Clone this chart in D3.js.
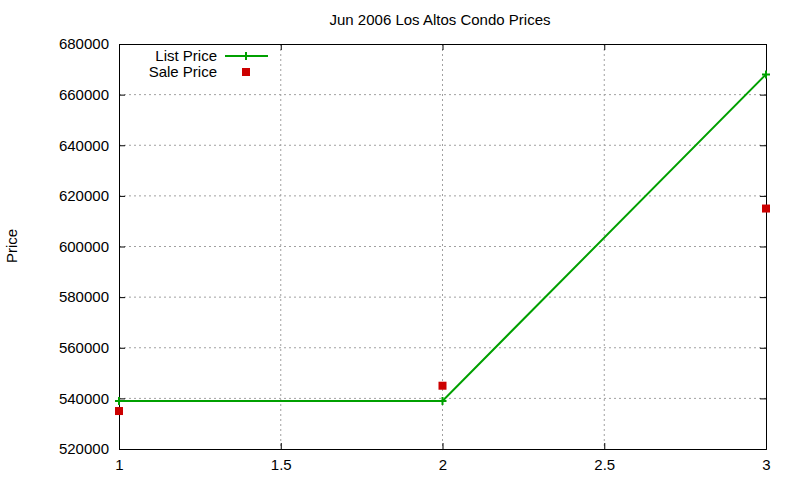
<!DOCTYPE html>
<html><head><meta charset="utf-8">
<script src="https://cdn.jsdelivr.net/npm/d3@7"></script>
<style>body{margin:0;background:#fff}text{font-family:"Liberation Sans",Arial,sans-serif;font-size:15px}</style>
</head><body><svg id="c" width="800" height="480"></svg>
<script>
const xValues=[1,2,3];
const listPrice=[539000,539000,668000];
const salePrice=[535000,545000,615000];
const xTicks=[1,1.5,2,2.5,3];
const yTicks=[520000,540000,560000,580000,600000,620000,640000,660000,680000];
const title="Jun 2006 Los Altos Condo Prices";

const svg=d3.select("#c");
const L=119,R=766,T=44,B=449;
const x=d3.scaleLinear().domain([1,3]).range([L,R]);
const y=d3.scaleLinear().domain([520000,680000]).range([B,T]);
const g=svg.append("g");
g.selectAll(".gx").data(xTicks.slice(1,-1)).enter().append("line")
 .attr("x1",d=>x(d)).attr("x2",d=>x(d)).attr("y1",T).attr("y2",B)
 .attr("stroke","#a0a0a0").attr("stroke-dasharray","2,3");
g.selectAll(".gy").data(yTicks.slice(1,-1)).enter().append("line")
 .attr("y1",d=>y(d)).attr("y2",d=>y(d)).attr("x1",L).attr("x2",R)
 .attr("stroke","#a0a0a0").attr("stroke-dasharray","2,3");
const fmt=d=>String(d);
svg.append("g").attr("transform",`translate(0,${B})`).call(d3.axisBottom(x).tickValues(xTicks).tickFormat(fmt).tickSize(-6).tickPadding(10));
svg.append("g").attr("transform",`translate(0,${T})`).call(d3.axisTop(x).tickValues(xTicks).tickFormat("").tickSize(-6));
svg.append("g").attr("transform",`translate(${L},0)`).call(d3.axisLeft(y).tickValues(yTicks).tickFormat(fmt).tickSize(-6).tickPadding(10));
svg.append("g").attr("transform",`translate(${R},0)`).call(d3.axisRight(y).tickValues(yTicks).tickFormat("").tickSize(-6));
svg.selectAll(".domain").attr("stroke","#000");
svg.selectAll(".tick text").attr("fill","#000").style("font-size","15px").style("font-family","'Liberation Sans',Arial,sans-serif");
svg.selectAll(".tick line").attr("stroke","#000");
svg.append("text").attr("x",440).attr("y",25).attr("text-anchor","middle").text(title);
svg.append("text").attr("transform","translate(17,246) rotate(-90)").attr("text-anchor","middle").text("Price");
const green="#00a000",red="#cc0000";
const pts=xValues.map((d,i)=>[d,listPrice[i]]);
svg.append("path").datum(pts).attr("fill","none").attr("stroke",green).attr("stroke-width",2)
 .attr("d",d3.line().x(d=>x(d[0])).y(d=>y(d[1])));
const plus=(sel,cx,cy)=>{sel.append("path").attr("d",`M${cx-4},${cy}H${cx+4}M${cx},${cy-4}V${cy+4}`).attr("stroke",green).attr("stroke-width",2);};
pts.forEach(d=>plus(svg,x(d[0]),y(d[1])));
svg.selectAll(".sq").data(xValues.map((d,i)=>[d,salePrice[i]])).enter().append("rect")
 .attr("x",d=>x(d[0])-4).attr("y",d=>y(d[1])-4).attr("width",8).attr("height",8).attr("fill",red);
svg.append("text").attr("x",217).attr("y",61).attr("text-anchor","end").text("List Price");
svg.append("line").attr("x1",225).attr("x2",268).attr("y1",56).attr("y2",56).attr("stroke",green).attr("stroke-width",2);
plus(svg,246,56);
svg.append("text").attr("x",217).attr("y",77).attr("text-anchor","end").text("Sale Price");
svg.append("rect").attr("x",242).attr("y",68).attr("width",8).attr("height",8).attr("fill",red);
</script></body></html>
